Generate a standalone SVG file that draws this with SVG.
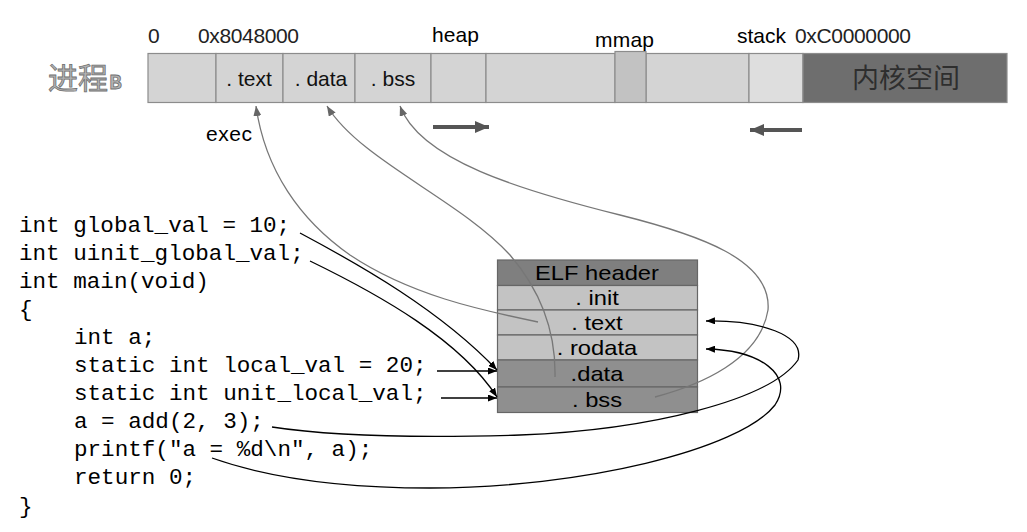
<svg xmlns="http://www.w3.org/2000/svg" width="1027" height="532" viewBox="0 0 1027 532">
<style>
.lbl{font-family:"Liberation Sans",Arial,sans-serif;fill:#000}
.addr{font-family:"Liberation Sans",Arial,sans-serif;fill:#222;font-size:21px}
.cell{fill:#d4d4d4;stroke:#8c8c8c;stroke-width:1.2}
.seg{font-family:"Liberation Sans",Arial,sans-serif;font-size:21px;fill:#111;text-anchor:middle}
.elf{font-family:"Liberation Sans",Arial,sans-serif;font-size:21px;fill:#000;text-anchor:middle}
.row{stroke:#666;stroke-width:1.2}
.code{font-family:"Liberation Mono","Courier New",monospace;font-size:22.6px;fill:#000}
.blk{fill:none;stroke:#000;stroke-width:1.3}
.gry{fill:none;stroke:#777;stroke-width:1.3}
.big{fill:none;stroke:#555;stroke-width:4}
</style>
<defs>
<marker id="ab" viewBox="0 0 9 7" refX="9" refY="3.5" markerWidth="9" markerHeight="7" markerUnits="userSpaceOnUse" orient="auto"><path d="M0,0 L9,3.5 L0,7 z" fill="#000"/></marker>
<marker id="ag" viewBox="0 0 10 8" refX="10" refY="4" markerWidth="10" markerHeight="8" markerUnits="userSpaceOnUse" orient="auto"><path d="M0,0 L10,4 L0,8 z" fill="#666"/></marker>
<marker id="abig" viewBox="0 0 14 12" refX="14" refY="6" markerWidth="14" markerHeight="12" markerUnits="userSpaceOnUse" orient="auto"><path d="M0,0 L14,6 L0,12 z" fill="#555"/></marker>
</defs>
<rect width="1027" height="532" fill="#fff"/>

<g id="process">
<text x="48" y="89" font-family="'Noto Sans CJK SC',sans-serif" font-size="30" fill="#b4b4b4" stroke="#707070" stroke-width="0.8">进程<tspan font-size="19" font-weight="bold" dx="1">B</tspan></text>
<rect class="cell" x="148" y="53.5" width="68" height="49"/>
<rect class="cell" x="216" y="53.5" width="67" height="49"/>
<rect class="cell" x="283" y="53.5" width="72" height="49"/>
<rect class="cell" x="355" y="53.5" width="76" height="49"/>
<rect class="cell" x="431" y="53.5" width="55" height="49"/>
<rect class="cell" x="486" y="53.5" width="129" height="49"/>
<rect class="cell" x="646" y="53.5" width="103" height="49"/>
<rect x="749" y="53.5" width="54" height="49" fill="#dedede" stroke="#8c8c8c" stroke-width="1.2"/>
<rect x="615" y="51.5" width="31" height="51" fill="#c2c2c2" stroke="#8c8c8c" stroke-width="1.2"/>
<rect x="803" y="53.5" width="204" height="49" fill="#6e6e6e" stroke="#8c8c8c" stroke-width="1.2"/>
<text class="seg" x="249" y="86">. text</text>
<text class="seg" x="321" y="86">. data</text>
<text class="seg" x="393" y="86">. bss</text>
<text x="906" y="88" font-family="'Noto Sans CJK SC',sans-serif" font-size="27" fill="#2e2e2e" text-anchor="middle">内核空间</text>
<text class="addr" x="148" y="43">0</text>
<text class="addr" x="198" y="43" textLength="101">0x8048000</text>
<text class="lbl" x="432" y="42" font-size="21" textLength="47">heap</text>
<text class="lbl" x="595" y="47" font-size="21" textLength="59">mmap</text>
<text class="lbl" x="737" y="43" font-size="21" textLength="49">stack</text>
<text class="addr" x="795" y="43" textLength="116">0xC0000000</text>
<text class="lbl" x="206" y="141" font-size="21" textLength="46">exec</text>
</g>

<g id="elf">
<rect x="497.5" y="260" width="200" height="25.5" fill="#7f7f7f" class="row"/>
<rect x="497.5" y="285.5" width="200" height="24.5" fill="#c3c3c3" class="row"/>
<rect x="497.5" y="310" width="200" height="25" fill="#c3c3c3" class="row"/>
<rect x="497.5" y="335" width="200" height="25" fill="#c3c3c3" class="row"/>
<rect x="497.5" y="360" width="200" height="27" fill="#8f8f8f" class="row"/>
<rect x="497.5" y="387" width="200" height="25.5" fill="#8f8f8f" class="row"/>
<text class="elf" transform="translate(597,280) scale(1.13,1)">ELF header</text>
<text class="elf" transform="translate(597,305) scale(1.13,1)">. init</text>
<text class="elf" transform="translate(597,329.8) scale(1.13,1)">. text</text>
<text class="elf" transform="translate(597,354.8) scale(1.13,1)">. rodata</text>
<text class="elf" transform="translate(597,381) scale(1.13,1)">.data</text>
<text class="elf" transform="translate(597,407) scale(1.13,1)">. bss</text>
</g>

<g id="code">
<text class="code" x="19" y="231.5">int global_val = 10;</text>
<text class="code" x="19" y="259.6">int uinit_global_val;</text>
<text class="code" x="19" y="287.7">int main(void)</text>
<text class="code" x="19" y="315.8">{</text>
<text class="code" x="74" y="343.9">int a;</text>
<text class="code" x="74" y="372">static int local_val = 20;</text>
<text class="code" x="74" y="400.1">static int unit_local_val;</text>
<text class="code" x="74" y="428.2">a = add(2, 3);</text>
<text class="code" x="74" y="456.3">printf("a = %d\n", a);</text>
<text class="code" x="74" y="484.4">return 0;</text>
<text class="code" x="19" y="512.5">}</text>
</g>

<g id="connectors">
<path class="big" d="M433,127 L489,127" marker-end="url(#abig)"/>
<path class="big" d="M802,130 L750,130" marker-end="url(#abig)"/>
<path class="gry" d="M538,322 C480,310 410,295 350,255 C300,220 265,170 256,106" marker-end="url(#ag)"/>
<path class="gry" d="M555,377 C556,330 540,290 510,255 C460,200 360,160 327,106" marker-end="url(#ag)"/>
<path class="gry" d="M655,397 C700,385 760,360 768,310 C772,260 700,235 620,215 C520,190 420,160 400,106" marker-end="url(#ag)"/>
<path class="blk" d="M300,233 C360,265 440,310 497,370" marker-end="url(#ab)"/>
<path class="blk" d="M310,261 C380,295 460,340 497,397" marker-end="url(#ab)"/>
<path class="blk" d="M437,371 L497,371" marker-end="url(#ab)"/>
<path class="blk" d="M441,398 L497,398" marker-end="url(#ab)"/>
<path class="blk" d="M272,427 C330,436 420,438 520,435 C650,430 770,400 798,360 C805,335 760,320 706,321" marker-end="url(#ab)"/>
<path class="blk" d="M212,458 C260,475 330,488 430,488 C580,488 740,450 775,405 C795,375 760,350 706,349" marker-end="url(#ab)"/>
</g>
</svg>
